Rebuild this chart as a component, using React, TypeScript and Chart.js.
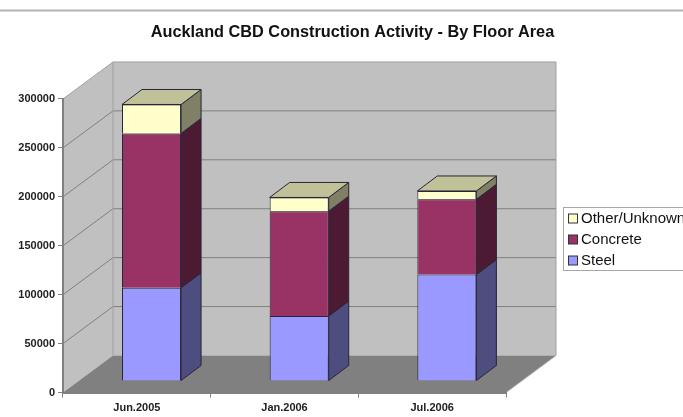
import React, { useEffect, useRef } from "react";
import { Chart, registerables } from "chart.js";

Chart.register(...registerables);

const chartTitle = "Auckland CBD Construction Activity - By Floor Area";
const categories = ["Jun.2005", "Jan.2006", "Jul.2006"];
const steel = [95300, 66400, 108800];
const concrete = [157700, 107200, 76900];
const other = [29600, 14000, 8500];

const SANS = "'Liberation Sans', Arial, sans-serif";
const WALL_DX = 50;
const WALL_DY = 37;
const BAR_SHIFT_X = 14.7;
const BAR_SHIFT_Y = 11.5;
const BAR_DX = 20;
const BAR_DY = 15;
const EDGE = "#2a2438";

const styles = [
  { front: "#9999ff", side: "#4d4d80", top: "#b3b3e6" },
  { front: "#993366", side: "#4d1a33", top: "#732650" },
  { front: "#ffffcc", side: "#808066", top: "#c0c099" },
];

const poly = (ctx: CanvasRenderingContext2D, pts: number[][], fill: string | null, stroke: string | null, lw = 1) => {
  ctx.beginPath();
  pts.forEach(([x, y], i) => (i ? ctx.lineTo(x, y) : ctx.moveTo(x, y)));
  ctx.closePath();
  if (fill) {
    ctx.fillStyle = fill;
    ctx.fill();
  }
  if (stroke) {
    ctx.strokeStyle = stroke;
    ctx.lineWidth = lw;
    ctx.lineJoin = "round";
    ctx.stroke();
  }
};

const line = (ctx: CanvasRenderingContext2D, x1: number, y1: number, x2: number, y2: number, c: string, lw = 1) => {
  ctx.beginPath();
  ctx.moveTo(x1, y1);
  ctx.lineTo(x2, y2);
  ctx.strokeStyle = c;
  ctx.lineWidth = lw;
  ctx.stroke();
};

const scene3d = {
  id: "scene3d",
  afterLayout(chart: any) {
    // the title is centred a little right of the canvas centre
    chart.titleBlock.left = 22;
    chart.titleBlock.right = chart.width;
  },
  beforeDraw(chart: any) {
    const { ctx, chartArea: a, scales } = chart;
    ctx.save();
    ctx.fillStyle = "#ffffff";
    ctx.fillRect(0, 0, chart.width, chart.height);
    line(ctx, 0, 10.5, chart.width, 10.5, "#b4b4b4", 2);

    const L = a.left, R = a.right, T = a.top, B = a.bottom;
    const d = WALL_DX, e = WALL_DY;
    poly(ctx, [[L, T], [L + d, T - e], [L + d, B - e], [L, B]], "#c0c0c0", null);
    poly(ctx, [[L + d, T - e], [R + d, T - e], [R + d, B - e], [L + d, B - e]], "#c0c0c0", null);
    poly(ctx, [[L, B], [R, B], [R + d, B - e], [L + d, B - e]], "#808080", null);

    (scales.y.ticks as any[]).forEach((t) => {
      if (t.value === 0) return;
      const y = scales.y.getPixelForValue(t.value);
      const isTop = t.value === scales.y.max;
      const c = isTop ? "#a0a0a0" : "#808080";
      line(ctx, L, y, L + d, y - e, c);
      line(ctx, L + d, y - e, R + d, y - e, c);
    });
    line(ctx, L + d, T - e, L + d, B - e, "#a0a0a0");
    line(ctx, R + d, T - e, R + d, B - e, "#a0a0a0");
    line(ctx, R, B, R + d, B - e, "#a8a8a8");
    ctx.restore();
  },
  beforeDatasetsDraw(chart: any) {
    const { ctx } = chart;
    ctx.save();
    ctx.translate(BAR_SHIFT_X, -BAR_SHIFT_Y);
  },
  afterDatasetsDraw(chart: any) {
    const { ctx } = chart;
    const count = chart.data.datasets.length;
    for (let i = 0; i < count; i++) {
      const meta = chart.getDatasetMeta(i);
      meta.data.forEach((bar: any) => {
        const { x, y, base, width } = bar.getProps(["x", "y", "base", "width"], true);
        const r = x + width / 2;
        const l = x - width / 2;
        poly(ctx, [[r, y], [r + BAR_DX, y - BAR_DY], [r + BAR_DX, base - BAR_DY], [r, base]], styles[i].side, EDGE);
        if (i === count - 1) {
          poly(ctx, [[l, y], [l + BAR_DX, y - BAR_DY], [r + BAR_DX, y - BAR_DY], [r, y]], styles[i].top, EDGE);
        }
      });
    }
    ctx.restore();
  },
  afterDraw(chart: any) {
    const { ctx } = chart;
    ctx.save();
    ctx.strokeStyle = "#a8a8a8";
    ctx.lineWidth = 1;
    ctx.strokeRect(563.5, 207.5, 140, 63);
    ctx.font = `15px ${SANS}`;
    ctx.textBaseline = "middle";
    const items = [...chart.data.datasets].map((ds: any, i: number) => ({ label: ds.label, i })).reverse();
    items.forEach((it, row) => {
      const cy = 218.5 + row * 21;
      ctx.fillStyle = styles[it.i].front;
      ctx.strokeStyle = "#333333";
      ctx.fillRect(568.5, cy - 4.5, 9, 9);
      ctx.strokeRect(568.5, cy - 4.5, 9, 9);
      ctx.fillStyle = "#111111";
      ctx.fillText(it.label, 581, cy + 0.8);
    });
    ctx.restore();
  },
};

export default function App() {
  const ref = useRef<HTMLCanvasElement>(null);
  useEffect(() => {
    const chart = new Chart(ref.current as HTMLCanvasElement, {
      type: "bar",
      plugins: [scene3d as any],
      data: {
        labels: categories,
        datasets: [
          { label: "Steel", data: steel },
          { label: "Concrete", data: concrete },
          { label: "Other/Unknown", data: other },
        ].map((d, i) => ({
          ...d,
          backgroundColor: styles[i].front,
          borderColor: EDGE,
          borderWidth: 1,
          barPercentage: 0.4,
          categoryPercentage: 1,
        })),
      },
      options: {
        responsive: false,
        animation: false,
        layout: { padding: { top: 0, left: 0, right: 177, bottom: 0 } },
        plugins: {
          legend: { display: false },
          tooltip: { enabled: false },
          title: {
            display: true,
            text: chartTitle,
            color: "#111111",
            font: { family: SANS, size: 16.3, weight: "bold" },
            padding: { top: 22.5, bottom: 56.9 },
          },
        },
        scales: {
          x: {
            stacked: true,
            border: { color: "#808080", width: 2 },
            grid: { drawOnChartArea: false, color: "#808080", tickLength: 5, offset: true },
            ticks: { color: "#222222", font: { family: SANS, size: 11, weight: "bold" }, padding: 4, maxRotation: 0 },
            afterFit(s: any) {
              s.height = 24.5;
            },
          },
          y: {
            stacked: true,
            min: 0,
            max: 300000,
            border: { color: "#808080", width: 2 },
            grid: { drawOnChartArea: false, color: "#808080", tickLength: 5 },
            ticks: {
              stepSize: 50000,
              color: "#222222",
              font: { family: SANS, size: 11, weight: "bold" },
              padding: 3,
              callback: (v: any) => String(v),
            },
            afterFit(s: any) {
              s.width = 63;
            },
          },
        },
      } as any,
    });
    return () => chart.destroy();
  }, []);
  return (
    <div style={{ position: "fixed", left: 0, top: 0, width: 683, height: 417, overflow: "hidden" }}>
      <canvas ref={ref} width={683} height={417} style={{ display: "block", filter: "blur(0.6px)" }} />
    </div>
  );
}
